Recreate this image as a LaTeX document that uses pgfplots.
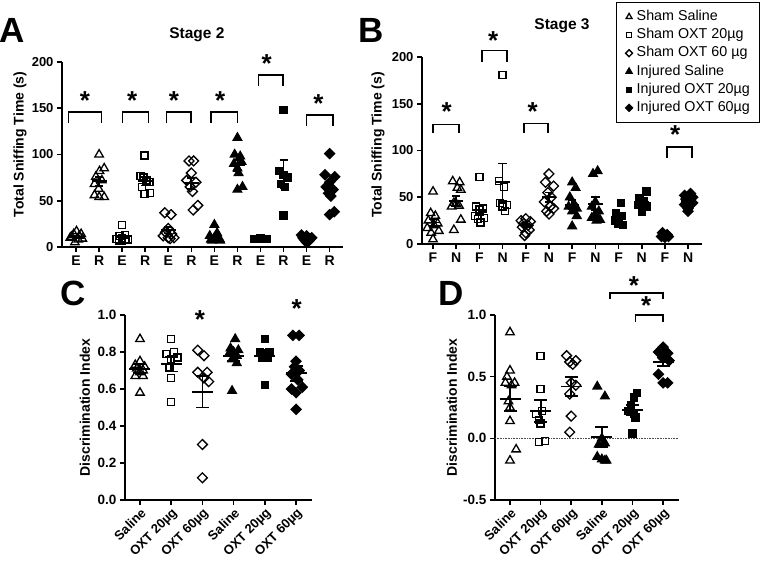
\documentclass[border=0pt]{standalone}
\usepackage{fontspec}
\setmainfont{Liberation Sans}
\usepackage{pgfplots}
\pgfplotsset{compat=1.18}
\pgfplotsset{
  panel/.style={
    scale only axis, clip=false,
    axis lines=left, axis line style={-, line width=1.6pt, black},
    tick align=outside, major tick length=5pt,
    tick style={line width=1.6pt, black},
    tick label style={font=\fontsize{13}{13}\selectfont\bfseries},
    ylabel style={font=\fontsize{14}{14}\selectfont\bfseries},
    enlargelimits=false,
  },
  ssal/.style={only marks, black, mark=triangle, mark size=4.9pt, line width=1.3pt},
  s20/.style={only marks, black, mark=square, mark size=3.5pt, line width=1.3pt},
  s60/.style={only marks, black, mark=square, mark size=3.5pt, line width=1.3pt, mark options={rotate=45}},
  isal/.style={only marks, black, mark=triangle*, mark size=4.9pt, line width=1.3pt},
  i20/.style={only marks, black, mark=square*, mark size=3.5pt, line width=1.3pt},
  i60/.style={only marks, black, mark=square*, mark size=3.5pt, line width=1.3pt, mark options={rotate=45}},
  msem/.style 2 args={only marks, black, mark=-, mark size=#1, line width=1.8pt, forget plot,
     error bars/.cd, y dir=both, y explicit, error bar style={line width=1.8pt, black},
     error mark options={rotate=90, mark size=#2, line width=1.8pt, black}},
  brk/.style={forget plot, black, line width=1.6pt, mark=none, sharp plot},
}
\newcommand{\sig}[2]{\node[font=\fontsize{26}{26}\selectfont\bfseries, inner sep=0pt, anchor=center, yshift=-5pt] at (axis cs:#1,#2) {*};}
\begin{document}
\begin{tikzpicture}
\useasboundingbox (0pt,0pt) rectangle (766pt,567pt);
\node[font=\fontsize{35}{35}\selectfont\bfseries] at (12.5pt,537pt) {A};
\node[font=\fontsize{35}{35}\selectfont\bfseries] at (371pt,537pt) {B};
\node[font=\fontsize{35}{35}\selectfont\bfseries] at (73pt,274pt) {C};
\node[font=\fontsize{35}{35}\selectfont\bfseries] at (451pt,274pt) {D};
% ---------------- Panel A
\begin{axis}[panel, at={(62pt,320pt)}, anchor=south west, width=281pt, height=185pt,
  xmin=-0.61, xmax=11.58, ymin=0, ymax=200,
  xtick={0,...,11}, xticklabels={E,R,E,R,E,R,E,R,E,R,E,R},
  xticklabel style={font=\fontsize{14}{14}\selectfont\bfseries},
  ytick={0,50,100,150,200}, yticklabels={0,50,100,150,200},
  ylabel={Total Sniffing Time (s)},
  ylabel style={at={(axis description cs:-0.149,0.554)}, anchor=center}]
\addplot[ssal] coordinates {(-0.25,10) (-0.1,14) (0.02,17) (0.14,12) (0.27,9) (-0.05,5) (0.1,8) (-0.2,11) (0.22,14)
 (1.0,100) (1.22,85) (1.02,82) (0.86,76) (1.12,72) (0.8,68) (0.8,56) (1.0,54) (1.22,54) (0.98,63)};
\addplot[s20] coordinates {(2.0,24) (1.75,9) (1.88,12) (2.0,10) (2.12,13) (2.25,8) (2.0,7) (1.85,7) (2.15,9)
 (2.97,99) (2.8,77) (2.92,75) (3.05,72) (3.18,70) (2.85,65) (3.22,58) (2.97,57)};
\addplot[s60] coordinates {(3.85,37) (4.12,35) (4.0,20) (3.88,16) (4.15,14) (3.78,12) (4.0,10) (4.25,10) (4.08,9)
 (4.9,93) (5.1,93) (5.0,80) (4.8,72) (5.2,70) (4.95,65) (5.05,60) (5.28,45) (5.08,40)};
\addplot[isal] coordinates {(6.0,24) (5.8,12) (6.12,15) (6.0,10) (6.22,9) (5.85,8) (6.05,8) (6.25,7) (5.9,7)
 (7.0,118) (6.88,100) (7.12,98) (7.18,92) (6.85,90) (7.0,85) (7.05,80) (7.22,65) (7.0,62)};
\addplot[i20] coordinates {(7.72,9) (7.86,9) (8.0,9) (8.14,9) (8.28,9) (8.0,10)
 (9.0,148) (8.82,82) (9.0,78) (9.18,75) (8.88,68) (9.05,65) (9.0,34)};
\addplot[i60] coordinates {(9.78,13) (10.0,12) (10.22,10) (9.9,8) (10.12,7) (10.0,5) (9.84,10) (10.16,9)
 (11.0,101) (10.8,78) (11.22,76) (11.0,70) (10.85,65) (11.15,62) (10.95,58) (11.05,55) (11.2,38) (11.0,35)};
\addplot[msem={7.5pt}{4pt}] coordinates {(0,11) +- (0,1.3) (1,71) +- (0,5) (2,11) +- (0,2) (3,71) +- (0,4.5)
 (4,18) +- (0,3.5) (5,69) +- (0,6) (6,10) +- (0,2) (7,88) +- (0,6) (8,9) +- (0,0.3) (9,79) +- (0,15)
 (10,9) +- (0,1) (11,64) +- (0,6.5)};
\addplot[brk] coordinates {(-0.33,134) (-0.33,146) (1.11,146) (1.11,134)};
\addplot[brk] coordinates {(2.02,134) (2.02,146) (3.14,146) (3.14,134)};
\addplot[brk] coordinates {(3.93,134) (3.93,146) (4.98,146) (4.98,134)};
\addplot[brk] coordinates {(5.86,134) (5.86,146) (7.0,146) (7.0,134)};
\addplot[brk] coordinates {(7.91,174) (7.91,186) (8.97,186) (8.97,174)};
\addplot[brk] coordinates {(10.0,131) (10.0,143) (11.14,143) (11.14,131)};
\sig{0.39}{164}\sig{2.44}{164}\sig{4.25}{164}\sig{6.25}{164}\sig{8.27}{204}\sig{10.51}{160}
\node[font=\fontsize{15.5}{15.5}\selectfont\bfseries] at (axis description cs:0.48,1.15) {Stage 2};
\end{axis}
% ---------------- Panel B
\begin{axis}[panel, at={(422pt,323pt)}, anchor=south west, width=280pt, height=187pt,
  xmin=-0.475, xmax=11.6, ymin=0, ymax=200,
  xtick={0,...,11}, xticklabels={F,N,F,N,F,N,F,N,F,N,F,N},
  xticklabel style={font=\fontsize{14}{14}\selectfont\bfseries},
  ytick={0,50,100,150,200}, yticklabels={0,50,100,150,200},
  ylabel={Total Sniffing Time (s)},
  ylabel style={at={(axis description cs:-0.157,0.53)}, anchor=center},
  legend style={at={(axis description cs:0.693,1.294)}, anchor=north west, draw=black, line width=0.8pt,
    font=\fontsize{14.3}{16}\selectfont, inner xsep=8pt, inner ysep=7pt, row sep=3.4pt, column sep=2pt,
    nodes={inner xsep=1pt, inner ysep=0.5pt, text height=10.5pt, text depth=3.3pt}},
  legend cell align=left,
  legend image code/.code={\path (-4pt,0pt) (4pt,0pt); \draw[#1, every mark/.append style={scale=0.7}] plot coordinates {(0pt,0pt)};}]
\addplot[ssal] coordinates {(0.0,56) (-0.1,33) (0.1,30) (-0.2,25) (0.2,22) (0.05,20) (-0.25,17) (0.25,14) (0.0,5) (-0.08,12)
 (0.85,67) (1.15,66) (1.05,60) (1.2,58) (0.9,44) (1.0,43) (1.12,41) (0.8,40) (1.2,26) (0.9,15)};
\addlegendentry{Sham Saline}
\addplot[s20] coordinates {(2.0,72) (1.85,40) (2.15,38) (2.0,36) (1.8,30) (2.2,28) (1.95,27) (2.05,23)
 (3.0,181) (2.85,67) (3.05,61) (2.9,44) (3.2,42) (3.0,40) (3.1,35)};
\addlegendentry{Sham OXT 20µg}
\addplot[s60] coordinates {(4.0,27) (3.8,25) (4.2,24) (3.9,22) (4.1,20) (3.85,18) (4.15,15) (4.0,12) (3.95,9)
 (5.0,75) (4.85,66) (5.2,62) (4.95,55) (5.1,50) (4.8,45) (5.05,40) (5.2,38) (4.9,35) (5.0,32)};
\addlegendentry{Sham OXT 60 µg}
\addplot[isal] coordinates {(6.0,66) (6.15,60) (5.9,50) (6.1,42) (5.85,40) (6.2,38) (6.0,35) (6.2,30) (6.0,19)
 (6.9,75) (7.1,78) (7.0,45) (6.85,40) (7.15,35) (7.0,32) (6.85,28) (7.2,26) (7.05,25)};
\addlegendentry{Injured Saline}
\addplot[i20] coordinates {(8.1,44) (7.9,33) (8.15,30) (7.85,25) (8.0,22) (8.2,20)
 (9.2,56) (8.9,49) (9.1,46) (8.85,42) (9.2,40) (9.0,34)};
\addlegendentry{Injured OXT 20µg}
\addplot[i60] coordinates {(9.9,12) (10.1,10) (10.0,9) (9.85,8) (10.15,8) (10.0,7)
 (11.1,54) (10.85,52) (11.2,50) (10.9,48) (11.05,46) (11.2,44) (10.85,42) (11.0,38) (11.0,35)};
\addlegendentry{Injured OXT 60µg}
\addplot[msem={7.2pt}{4.2pt}] coordinates {(0,23) +- (0,4) (1,46) +- (0,5) (2,36) +- (0,5) (3,66) +- (0,20)
 (4,20) +- (0,2) (5,50) +- (0,5) (6,42) +- (0,5) (7,43) +- (0,7) (8,28) +- (0,4) (9,45) +- (0,3)
 (10,10) +- (0,1) (11,46) +- (0,2)};
\addplot[brk] coordinates {(0.01,119) (0.01,128) (1.12,128) (1.12,119)};
\addplot[brk] coordinates {(2.1,195) (2.1,207) (3.18,207) (3.18,195)};
\addplot[brk] coordinates {(3.93,119) (3.93,129) (4.96,129) (4.96,119)};
\addplot[brk] coordinates {(10.08,92) (10.08,104) (11.16,104) (11.16,92)};
\sig{0.59}{147}\sig{2.6}{223}\sig{4.3}{147}\sig{10.44}{122}
\node[font=\fontsize{15.5}{15.5}\selectfont\bfseries] at (axis description cs:0.5,1.165) {Stage 3};
\end{axis}
% ---------------- Panel C
\begin{axis}[panel, at={(125pt,67pt)}, anchor=south west, width=187pt, height=185pt,
  xmin=-0.48, xmax=5.51, ymin=0, ymax=1,
  xtick={0,...,5}, xticklabels={Saline,OXT 20µg,OXT 60µg,Saline,OXT 20µg,OXT 60µg},
  xticklabel style={rotate=45, anchor=north east, inner sep=1.5pt},
  ytick={0,0.2,0.4,0.6,0.8,1}, yticklabels={0.0,0.2,0.4,0.6,0.8,1.0},
  yticklabel style={font=\fontsize{13.5}{13.5}\selectfont\bfseries},
  ylabel={Discrimination Index},
  ylabel style={at={(axis description cs:-0.214,0.5)}, anchor=center}]
\addplot[ssal] coordinates {(0,0.87) (0,0.75) (-0.15,0.73) (0.15,0.72) (-0.1,0.71) (0.1,0.70) (0,0.69) (-0.15,0.67) (0.1,0.67) (0,0.58)};
\addplot[s20] coordinates {(1,0.87) (0.85,0.79) (1.1,0.80) (1.2,0.77) (1.0,0.76) (0.95,0.72) (1.0,0.66) (1.0,0.53)};
\addplot[s60] coordinates {(1.85,0.81) (2.05,0.78) (1.85,0.69) (2.15,0.69) (2.05,0.66) (2.2,0.64) (2.0,0.30) (2.0,0.12)};
\addplot[isal] coordinates {(3.05,0.87) (2.9,0.82) (3.15,0.81) (3.0,0.80) (2.85,0.79) (3.1,0.78) (2.95,0.76) (3.1,0.74) (2.95,0.59)};
\addplot[i20] coordinates {(4.0,0.87) (3.85,0.80) (4.15,0.80) (4.0,0.79) (3.9,0.78) (4.1,0.77) (4.0,0.62)};
\addplot[i60] coordinates {(4.9,0.89) (5.1,0.89) (5.0,0.75) (4.95,0.72) (5.1,0.70) (4.85,0.68) (5.05,0.65) (5.2,0.61) (4.85,0.60) (5.0,0.58) (5.0,0.49)};
\addplot[msem={10.5pt}{6.5pt}] coordinates {(0,0.71) +- (0,0.025) (1,0.735) +- (0,0.04) (2,0.585) +- (0,0.085)
 (3,0.78) +- (0,0.03) (4,0.78) +- (0,0.03) (5,0.685) +- (0,0.04)};
\sig{1.92}{1.0}\sig{5.02}{1.06}
\end{axis}
% ---------------- Panel D
\begin{axis}[panel, at={(495pt,67pt)}, anchor=south west, width=184pt, height=185pt,
  xmin=-0.49, xmax=5.52, ymin=-0.5, ymax=1,
  xtick={0,...,5}, xticklabels={Saline,OXT 20µg,OXT 60µg,Saline,OXT 20µg,OXT 60µg},
  xticklabel style={rotate=45, anchor=north east, inner sep=1.5pt},
  ytick={-0.5,0,0.5,1}, yticklabels={-0.5,0.0,0.5,1.0},
  yticklabel style={font=\fontsize{13.5}{13.5}\selectfont\bfseries},
  ylabel={Discrimination Index},
  ylabel style={at={(axis description cs:-0.234,0.5)}, anchor=center}]
\addplot[forget plot, densely dotted, line width=0.6pt, black!70, mark=none] coordinates {(-0.49,0) (5.52,0)};
\addplot[ssal] coordinates {(0,0.86) (0,0.55) (-0.1,0.50) (-0.15,0.45) (0.15,0.45) (0.05,0.43) (-0.05,0.30) (0.0,0.25) (0,0.14) (0.2,-0.09) (0,-0.18)};
\addplot[s20] coordinates {(1,0.67) (1,0.40) (0.85,0.20) (1.05,0.22) (0.95,0.15) (1.0,0.12) (0.95,-0.03) (1.15,-0.02)};
\addplot[s60] coordinates {(1.85,0.67) (1.95,0.62) (2.15,0.63) (2.05,0.60) (2.0,0.45) (2.15,0.43) (1.95,0.36) (2.0,0.18) (1.95,0.05)};
\addplot[isal] coordinates {(2.85,0.42) (3.1,0.34) (3.0,0.0) (2.9,-0.05) (3.1,-0.04) (2.85,-0.15) (3.0,-0.17) (3.1,-0.18) (3.15,-0.18)};
\addplot[i20] coordinates {(4.15,0.37) (4.05,0.33) (3.95,0.27) (3.85,0.22) (4.05,0.20) (4.1,0.17) (4.0,0.04)};
\addplot[i60] coordinates {(5.0,0.74) (4.95,0.72) (5.05,0.71) (4.85,0.70) (5.15,0.69) (4.95,0.68) (5.05,0.67) (5.0,0.65) (5.2,0.63) (4.85,0.52) (5.0,0.45) (5.15,0.45)};
\addplot[msem={10.5pt}{6.5pt}] coordinates {(0,0.32) +- (0,0.1) (1,0.22) +- (0,0.09) (2,0.42) +- (0,0.075)
 (3,0.01) +- (0,0.08) (4,0.23) +- (0,0.04) (5,0.62) +- (0,0.035)};
\addplot[brk] coordinates {(4.1,0.94) (4.1,1.0) (5.0,1.0) (5.0,0.94)};
\addplot[brk] coordinates {(3.27,1.13) (3.27,1.18) (5.0,1.18) (5.0,1.13)};
\sig{4.45}{1.12}\sig{4.05}{1.28}
\end{axis}
\end{tikzpicture}
\end{document}
